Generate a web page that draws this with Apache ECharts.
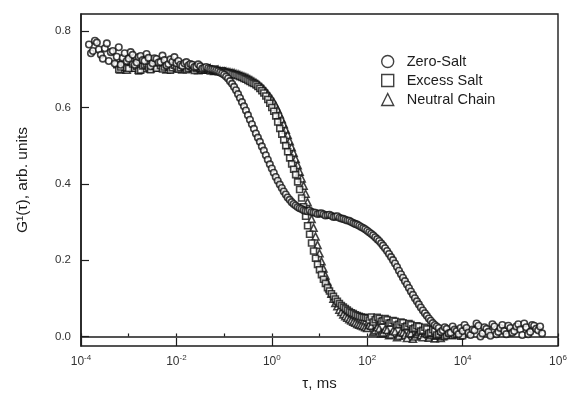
<!DOCTYPE html>
<html>
<head>
<meta charset="utf-8">
<script src="https://cdn.jsdelivr.net/npm/echarts@6/dist/echarts.min.js"></script>
<style>
  html, body { margin: 0; padding: 0; background: #fff; }
  #chart { width: 572px; height: 398px; }
</style>
</head>
<body>
<div id="chart"></div>
<script>
  // delay time tau (ms), log spaced, 24 per decade (one row per decade)
  const tauMs = [
    1e-4, 1.10e-4, 1.21e-4, 1.33e-4, 1.47e-4, 1.62e-4, 1.78e-4, 1.96e-4, 2.15e-4, 2.37e-4, 2.61e-4, 2.87e-4, 3.16e-4, 3.48e-4, 3.83e-4, 4.22e-4, 4.64e-4, 5.11e-4, 5.62e-4, 6.19e-4, 6.81e-4, 7.50e-4, 8.25e-4, 9.09e-4,
    1e-3, 1.10e-3, 1.21e-3, 1.33e-3, 1.47e-3, 1.62e-3, 1.78e-3, 1.96e-3, 2.15e-3, 2.37e-3, 2.61e-3, 2.87e-3, 3.16e-3, 3.48e-3, 3.83e-3, 4.22e-3, 4.64e-3, 5.11e-3, 5.62e-3, 6.19e-3, 6.81e-3, 7.50e-3, 8.25e-3, 9.09e-3,
    1e-2, 1.10e-2, 1.21e-2, 1.33e-2, 1.47e-2, 1.62e-2, 1.78e-2, 1.96e-2, 2.15e-2, 2.37e-2, 2.61e-2, 2.87e-2, 3.16e-2, 3.48e-2, 3.83e-2, 4.22e-2, 4.64e-2, 5.11e-2, 5.62e-2, 6.19e-2, 6.81e-2, 7.50e-2, 8.25e-2, 9.09e-2,
    1e-1, 1.10e-1, 1.21e-1, 1.33e-1, 1.47e-1, 1.62e-1, 1.78e-1, 1.96e-1, 2.15e-1, 2.37e-1, 2.61e-1, 2.87e-1, 3.16e-1, 3.48e-1, 3.83e-1, 4.22e-1, 4.64e-1, 5.11e-1, 5.62e-1, 6.19e-1, 6.81e-1, 7.50e-1, 8.25e-1, 9.09e-1,
    1, 1.10, 1.21, 1.33, 1.47, 1.62, 1.78, 1.96, 2.15, 2.37, 2.61, 2.87, 3.16, 3.48, 3.83, 4.22, 4.64, 5.11, 5.62, 6.19, 6.81, 7.50, 8.25, 9.09,
    1e1, 1.10e1, 1.21e1, 1.33e1, 1.47e1, 1.62e1, 1.78e1, 1.96e1, 2.15e1, 2.37e1, 2.61e1, 2.87e1, 3.16e1, 3.48e1, 3.83e1, 4.22e1, 4.64e1, 5.11e1, 5.62e1, 6.19e1, 6.81e1, 7.50e1, 8.25e1, 9.09e1,
    1e2, 1.10e2, 1.21e2, 1.33e2, 1.47e2, 1.62e2, 1.78e2, 1.96e2, 2.15e2, 2.37e2, 2.61e2, 2.87e2, 3.16e2, 3.48e2, 3.83e2, 4.22e2, 4.64e2, 5.11e2, 5.62e2, 6.19e2, 6.81e2, 7.50e2, 8.25e2, 9.09e2,
    1e3, 1.10e3, 1.21e3, 1.33e3, 1.47e3, 1.62e3, 1.78e3, 1.96e3, 2.15e3, 2.37e3, 2.61e3, 2.87e3, 3.16e3, 3.48e3, 3.83e3, 4.22e3, 4.64e3, 5.11e3, 5.62e3, 6.19e3, 6.81e3, 7.50e3, 8.25e3, 9.09e3,
    1e4, 1.10e4, 1.21e4, 1.33e4, 1.47e4, 1.62e4, 1.78e4, 1.96e4, 2.15e4, 2.37e4, 2.61e4, 2.87e4, 3.16e4, 3.48e4, 3.83e4, 4.22e4, 4.64e4, 5.11e4, 5.62e4, 6.19e4, 6.81e4, 7.50e4, 8.25e4, 9.09e4,
    1e5, 1.10e5, 1.21e5, 1.33e5, 1.47e5, 1.62e5, 1.78e5, 1.96e5, 2.15e5, 2.37e5, 2.61e5, 2.87e5, 3.16e5, 3.48e5, 3.83e5, 4.22e5, 4.64e5
  ];

  const zeroSalt = [
    null, null, null, null, .765, .742, .748, .775, .770, .752, .738, .728, .755, .768, .722, .745, .748, .715, .733, .758, .712, .730, .742, .722,
    .728, .745, .738, .712, .718, .732, .735, .724, .722, .740, .730, .708, .716, .729, .727, .718, .719, .736, .724, .710, .714, .726, .720, .732,
    .716, .722, .712, .709, .716, .719, .710, .714, .712, .706, .707, .713, .708, .702, .704, .706, .703, .701, .700, .699, .697, .695, .692, .689,
    .686, .681, .676, .669, .662, .654, .645, .635, .625, .614, .603, .592, .580, .568, .556, .544, .532, .521, .510, .498, .487, .475, .463, .451,
    .440, .429, .418, .408, .398, .389, .380, .372, .364, .358, .352, .347, .343, .339, .336, .334, .331, .329, .328, .330, .326, .325, .324, .321,
    .322, .323, .320, .317, .318, .319, .316, .313, .314, .315, .311, .309, .308, .306, .304, .303, .300, .297, .295, .293, .290, .287, .284, .281,
    .277, .273, .269, .265, .260, .255, .250, .244, .238, .231, .224, .216, .208, .200, .191, .182, .172, .163, .154, .145, .136, .127, .118, .109,
    .100, .092, .084, .076, .068, .061, .054, .047, .041, .035, .030, .026, .022, .012, .016, .024, .020, .008, .010, .026, .018, .014, .006, .022,
    .014, .030, .022, .010, .004, .018, .016, .034, .028, .000, .008, .024, .020, .012, .002, .032, .026, .006, .012, .022, .030, .014, .006, .028,
    .022, .010, .014, .026, .032, .018, .004, .034, .024, .006, .012, .030, .028, .020, .016, .026, .008
  ];

  const excessSalt = [
    null, null, null, null, null, null, null, null, null, null, null, null, null, null, null, null, null, null, .712, .700, .706, .718, .716, .704,
    .702, .720, .714, .703, .708, .696, .698, .709, .712, .716, .705, .699, .713, .708, .703, .717, .710, .701, .706, .712, .709, .698, .704, .711,
    .708, .701, .705, .711, .707, .699, .703, .708, .705, .697, .702, .706, .703, .698, .700, .704, .700, .696, .698, .701, .697, .694, .695, .696,
    .693, .692, .691, .690, .688, .686, .685, .683, .681, .679, .676, .674, .671, .668, .665, .663, .660, .655, .650, .644, .638, .630, .621, .611,
    .600, .590, .578, .562, .545, .530, .515, .500, .484, .468, .452, .438, .424, .405, .385, .363, .340, .315, .290, .268, .245, .224, .205, .189,
    .175, .162, .150, .139, .128, .119, .112, .105, .098, .092, .086, .081, .077, .073, .069, .065, .062, .060, .057, .055, .053, .051, .050, .049,
    .048, .043, .051, .038, .044, .050, .047, .040, .041, .047, .044, .035, .036, .042, .040, .030, .032, .038, .036, .025, .027, .034, .031, .020,
    .022, .028, .026, .014, .016, .024, .020, .008, .010, .018, .014, .004, .006, .013, .010, .000, .003, .009, .008, .002, .004, .006, .007, .001,
    .002
  ];

  const neutralChain = [
    null, null, null, null, null, null, null, null, null, null, null, null, null, null, null, null, null, null, null, null, .700, .712, .708, .699,
    .716, .707, .704, .713, .711, .700, .717, .709, .703, .714, .712, .702, .707, .716, .714, .705, .704, .713, .711, .700, .706, .715, .710, .703,
    .703, .710, .708, .700, .705, .709, .706, .703, .702, .707, .704, .698, .701, .705, .701, .699, .699, .703, .699, .696, .697, .699, .696, .695,
    .695, .694, .693, .692, .691, .690, .688, .687, .685, .683, .681, .679, .677, .674, .671, .668, .665, .661, .657, .653, .648, .642, .636, .629,
    .622, .614, .605, .594, .582, .569, .556, .542, .528, .512, .496, .481, .465, .449, .432, .414, .395, .374, .352, .330, .308, .285, .262, .240,
    .218, .197, .178, .160, .142, .126, .112, .099, .088, .079, .070, .064, .058, .053, .049, .045, .042, .039, .036, .033, .031, .029, .027, .024,
    .022, .030, .028, .012, .016, .024, .021, .008, .010, .019, .017, .003, .005, .015, .013, -.002, .002, .012, .010, .004, -.004, .009, .008, -.006,
    .000, .006, .011, .003, -.002, .010, .007, -.003, .003, .008, -.005, .002, .004, -.004, .001, .005, .006
  ];

  const yTicks = [0, 0.2, 0.4, 0.6, 0.8];
  const seriesNames = ['Zero-Salt', 'Excess Salt', 'Neutral Chain'];

  function pairs(values) {
    var out = [];
    for (var i = 0; i < values.length; i++) {
      if (values[i] != null) out.push([tauMs[i], values[i]]);
    }
    return out;
  }

  var font = 'Liberation Sans';
  var ink = '#111111';
  var line = '#1c1c1c';
  var markStyle = { color: '#ffffff', borderColor: ink, borderWidth: 1.6 };

  var chart = echarts.init(document.getElementById('chart'));
  chart.setOption({
    backgroundColor: '#ffffff',
    animation: false,
    textStyle: { fontFamily: font },
    grid: {
      left: 81, top: 14, right: 14, bottom: 52,
      show: true, borderColor: line, borderWidth: 1.4
    },
    legend: {
      orient: 'vertical',
      left: 376, top: 49,
      itemWidth: 12, itemHeight: 12, itemGap: 4,
      data: seriesNames,
      itemStyle: { borderWidth: 1.4 },
      textStyle: { fontFamily: font, fontSize: 14.5, color: line, padding: [0, 0, 0, 8] }
    },
    xAxis: [
      {
        type: 'log', logBase: 10, min: 1e-4, max: 1e6, interval: 1,
        axisLine: { show: true, lineStyle: { color: line, width: 1.5 } },
        axisTick: { show: true, inside: true, length: 3, lineStyle: { color: line, width: 1.2 } },
        axisLabel: { show: false },
        splitLine: { show: false },
        minorTick: { show: false }
      },
      {
        type: 'log', logBase: 10, min: 1e-4, max: 1e6, interval: 2,
        position: 'bottom',
        axisLine: { show: false },
        axisTick: { show: true, inside: true, length: 8, lineStyle: { color: line, width: 1.2 } },
        splitLine: { show: false },
        axisLabel: {
          margin: 8,
          formatter: function (v) {
            var e = Math.round(Math.log10(v));
            return '{b|10}{s|' + e + '}';
          },
          rich: {
            b: { fontSize: 12, color: '#333', fontFamily: font, lineHeight: 14, verticalAlign: 'bottom' },
            s: { fontSize: 8, color: '#333', fontFamily: font, lineHeight: 8, verticalAlign: 'top', padding: [0, 0, 6, 0] }
          }
        },
        name: 'τ, ms',
        nameLocation: 'middle',
        nameGap: 30,
        nameTextStyle: { fontSize: 15, color: line, fontFamily: font }
      }
    ],
    yAxis: {
      type: 'value', min: -0.025, max: 0.845,
      axisLine: { show: true, lineStyle: { color: line, width: 1.5 } },
      axisTick: { show: true, inside: true, length: 8, customValues: yTicks, lineStyle: { color: line, width: 1.2 } },
      axisLabel: {
        customValues: yTicks, margin: 10, fontSize: 11.5, color: '#333',
        formatter: function (v) { return v.toFixed(1); }
      },
      splitLine: { show: false },
      name: 'G¹(τ), arb. units',
      nameLocation: 'middle',
      nameGap: 50,
      nameTextStyle: { fontSize: 15.5, color: line, fontFamily: font }
    },
    series: [
      {
        name: 'Neutral Chain', type: 'scatter', xAxisIndex: 0,
        symbol: 'triangle', symbolSize: 7, itemStyle: markStyle,
        data: pairs(neutralChain)
      },
      {
        name: 'Excess Salt', type: 'scatter', xAxisIndex: 0,
        symbol: 'rect', symbolSize: 6, itemStyle: markStyle,
        data: pairs(excessSalt)
      },
      {
        name: 'Zero-Salt', type: 'scatter', xAxisIndex: 0,
        symbol: 'circle', symbolSize: 6.5, itemStyle: markStyle,
        data: pairs(zeroSalt)
      }
    ]
  });
</script>
</body>
</html>
